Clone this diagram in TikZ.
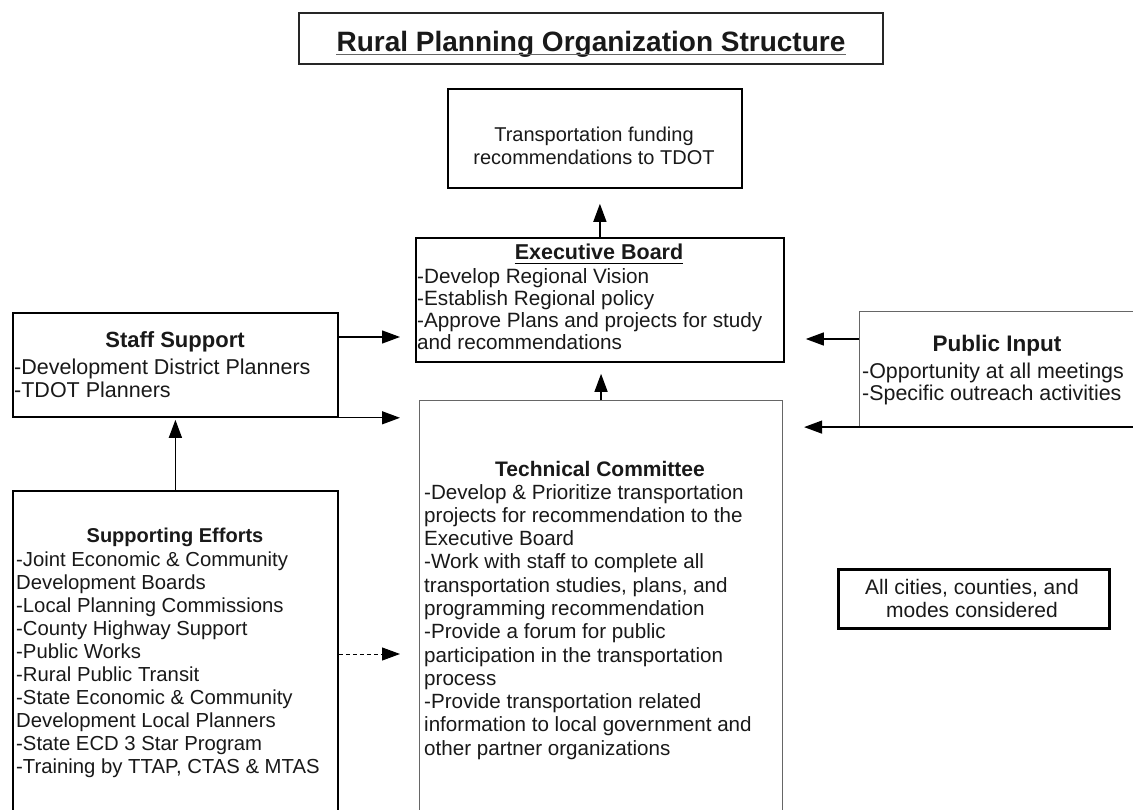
\documentclass[tikz,border=0pt]{standalone}
\usepackage{fontspec}
\setmainfont{Liberation Sans}
\usetikzlibrary{arrows.meta}

\begin{document}
\begin{tikzpicture}[x=1pt,y=-1pt,
  box/.style={draw=black, line width=1.8pt, inner sep=0pt, anchor=north west},
  thinbox/.style={draw=black!60, line width=1.1pt, inner sep=0pt, anchor=north west},
  txt/.style={inner sep=0pt, text=black!90},
  head/.style={txt, anchor=base},
  arr/.style={draw=black, line width=1.3pt, -{Triangle[length=18pt,width=13pt]}},
]
\useasboundingbox (0,0) rectangle (1133,810);
\fill[white] (0,0) rectangle (1133,810);
\clip (0,0) rectangle (1133,810);

% ---- boxes ----
\node[box, draw=black!85, line width=1.6pt, minimum width=584pt, minimum height=51pt] (title) at (298,12) {};
\node[box, minimum width=294pt, minimum height=99pt] (top) at (447,88) {};
\node[box, minimum width=368pt, minimum height=124pt] (exec) at (415,237) {};
\node[box, minimum width=325pt, minimum height=104pt] (staff) at (12,312) {};
\node[thinbox, minimum width=290pt, minimum height=115pt] (pub) at (859,311) {};
\node[thinbox, minimum width=363pt, minimum height=430pt] (tech) at (419,400) {};
\node[box, minimum width=325pt, minimum height=340pt] (sup) at (12,490) {};
\node[box, line width=2.5pt, minimum width=271pt, minimum height=59pt] (allc) at (837,568) {};
\draw[line width=1.3pt] (pub.south west) -- (pub.south east);

% ---- title ----
\node[head] (ttl) at (591,52) {\fontsize{28}{30}\selectfont\bfseries Rural Planning Organization Structure};
\draw[black!60, line width=1.6pt] ([yshift=-2.5pt]ttl.base west) -- ([yshift=-2.5pt]ttl.base east);

% ---- funding box ----
\node[txt, anchor=base] (toptxt) at (594,142) {\fontsize{20}{22.5}\selectfont
  \begin{tabular}[t]{@{}c@{}}Transportation funding\\ recommendations to TDOT\end{tabular}};

% ---- executive board ----
\node[head] (exechd) at (599,260) {\fontsize{21.5}{24}\selectfont\bfseries Executive Board};
\draw[line width=1.3pt] ([yshift=-3.5pt]exechd.base west) -- ([yshift=-3.5pt]exechd.base east);
\node[txt, anchor=base west] (exectxt) at (417,284) {\fontsize{20.7}{22}\selectfont
  \begin{tabular}[t]{@{}l@{}}-Develop Regional Vision\\ -Establish Regional policy\\
  -Approve Plans and projects for study\\ and recommendations\end{tabular}};

% ---- staff support ----
\node[head] (staffhd) at (175,348) {\fontsize{22}{24}\selectfont\bfseries Staff Support};
\node[txt, anchor=base west] (stafftxt) at (14,374) {\fontsize{21.5}{24}\selectfont
  \begin{tabular}[t]{@{}l@{}}-Development District Planners\\ -TDOT Planners\end{tabular}};

% ---- public input ----
\node[head] (pubhd) at (997,352) {\fontsize{22.5}{24}\selectfont\bfseries Public Input};
\node[txt, anchor=base west] (pubtxt) at (862,378) {\fontsize{21.4}{22}\selectfont
  \begin{tabular}[t]{@{}l@{}}-Opportunity at all meetings\\ -Specific outreach activities\end{tabular}};

% ---- technical committee ----
\node[head] (techhd) at (600,476) {\fontsize{21}{24}\selectfont\bfseries Technical Committee};
\node[txt, anchor=base west] (techtxt) at (424,499) {\fontsize{20.6}{23.3}\selectfont
  \begin{tabular}[t]{@{}l@{}}-Develop \& Prioritize transportation\\ projects for recommendation to the\\
  Executive Board\\ -Work with staff to complete all\\ transportation studies, plans, and\\
  programming recommendation\\ -Provide a forum for public\\ participation in the transportation\\
  process\\ -Provide transportation related\\ information to local government and\\
  other partner organizations\end{tabular}};

% ---- supporting efforts ----
\node[head] (suphd) at (175,542) {\fontsize{20}{23}\selectfont\bfseries Supporting Efforts};
\node[txt, anchor=base west] (suptxt) at (16,566) {\fontsize{20.3}{23.1}\selectfont
  \begin{tabular}[t]{@{}l@{}}-Joint Economic \& Community\\ Development Boards\\
  -Local Planning Commissions\\ -County Highway Support\\ -Public Works\\
  -Rural Public Transit\\ -State Economic \& Community\\ Development Local Planners\\
  -State ECD 3 Star Program\\ -Training by TTAP, CTAS \& MTAS\end{tabular}};

% ---- scope note ----
\node[txt, anchor=base] (allctxt) at (972,594) {\fontsize{21}{23}\selectfont
  \begin{tabular}[t]{@{}c@{}}All cities, counties, and\\ modes considered\end{tabular}};

% ---- connectors ----
\coordinate (s1) at ([yshift=-25pt]staff.north east);
\coordinate (d1) at ([yshift=-164pt]sup.north east);
\coordinate (p1) at ([yshift=-28pt]pub.north west);

\draw[arr, shorten >=15pt] (exec.north) -- (exec.north |- top.south);
\draw[arr, shorten >=11pt] (tech.north) -- (tech.north |- exec.south);
\draw[arr, shorten >=15pt] (s1) -- (s1 -| exec.west);
\draw[arr, shorten >=19pt] (staff.south east) -- (staff.south east -| tech.west);
\draw[arr, shorten >=2pt] (sup.north) -- (sup.north |- staff.south);
\draw[arr, line width=1pt, dash pattern=on 4pt off 3pt, shorten >=19pt] (d1) -- (d1 -| tech.west);
\draw[arr, shorten >=21pt] (p1) -- (p1 -| exec.east);
\draw[arr, shorten >=21pt] (pub.south west) -- (pub.south west -| tech.east);
\end{tikzpicture}
\end{document}
